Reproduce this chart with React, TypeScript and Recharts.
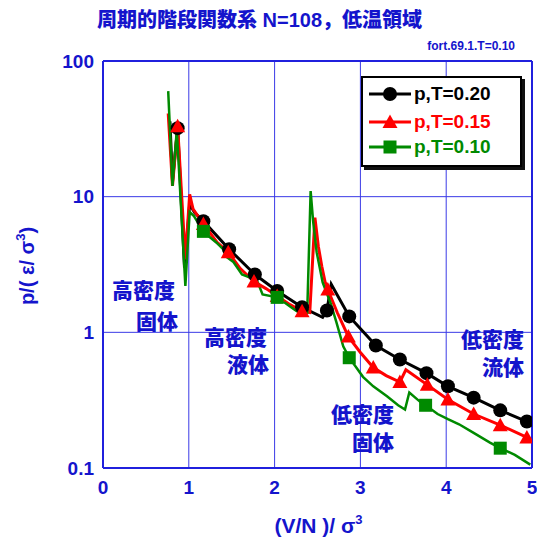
import React from 'react';
import { ComposedChart, Line, XAxis, YAxis, ReferenceLine } from 'recharts';

// ---------- data ----------
const xTicks = [0, 1, 2, 3, 4, 5];
const yTicks = [0.1, 1, 10, 100];
const xMinorTicks = [0, 0.2, 0.4, 0.6, 0.8, 1, 1.2, 1.4, 1.6, 1.8, 2, 2.2, 2.4, 2.6, 2.8, 3, 3.2, 3.4, 3.6, 3.8, 4, 4.2, 4.4, 4.6, 4.8, 5];
const yMinorTicks = [0.2, 0.3, 0.4, 0.5, 0.6, 0.7, 0.8, 0.9, 1, 2, 3, 4, 5, 6, 7, 8, 9, 10, 20, 30, 40, 50, 60, 70, 80, 90];
const gridX = [1, 2, 3, 4];
const gridY = [1, 10];

const t20X = [0.78, 0.81, 0.87, 0.95, 1.01, 1.07, 1.17, 1.47, 1.77, 2.03, 2.32, 2.56, 2.61, 2.66, 2.87, 3.18, 3.46, 3.77, 4.02, 4.32, 4.63, 4.94, 5.0];
const t20Y = [36, 13, 32, 3.0, 8.8, 7.6, 6.6, 4.1, 2.67, 2.02, 1.53, 1.29, 1.45, 2.26, 1.31, 0.8, 0.63, 0.5, 0.4, 0.33, 0.266, 0.22, 0.21];
const t20Marks = [2, 6, 7, 8, 9, 10, 12, 14, 15, 16, 17, 18, 19, 20, 21];

const t15X = [0.76, 0.81, 0.87, 0.96, 1.01, 1.05, 1.17, 1.33, 1.46, 1.6, 1.76, 1.9, 2.03, 2.18, 2.32, 2.41, 2.47, 2.51, 2.55, 2.59, 2.62, 2.73, 2.86, 3.0, 3.15, 3.3, 3.46, 3.53, 3.78, 4.02, 4.32, 4.63, 4.94, 5.0];
const t15Y = [41, 12, 33, 3.45, 10.4, 8.1, 6.3, 4.6, 3.9, 2.95, 2.37, 2.1, 1.85, 1.6, 1.43, 1.4, 7.0, 4.3, 3.07, 2.33, 2.07, 1.4, 0.93, 0.71, 0.55, 0.48, 0.43, 0.53, 0.41, 0.32, 0.25, 0.207, 0.168, 0.16];
const t15Marks = [2, 6, 8, 10, 12, 14, 20, 22, 24, 26, 28, 29, 30, 31, 32];

const t10X = [0.76, 0.81, 0.86, 0.96, 1.01, 1.06, 1.17, 1.25, 1.32, 1.4, 1.44, 1.52, 1.62, 1.7, 1.79, 1.86, 2.03, 2.12, 2.18, 2.26, 2.38, 2.42, 2.45, 2.49, 2.56, 2.65, 2.72, 2.8, 2.87, 3.03, 3.15, 3.31, 3.44, 3.52, 3.57, 3.69, 3.76, 3.9, 4.02, 4.15, 4.31, 4.51, 4.63, 4.8, 4.98];
const t10Y = [60, 12, 31, 2.2, 7.7, 7.2, 5.55, 5.0, 4.6, 4.1, 3.6, 3.3, 2.67, 2.55, 2.45, 1.9, 1.81, 1.65, 1.55, 1.43, 1.4, 11.0, 6.5, 3.9, 2.33, 1.66, 1.19, 0.79, 0.65, 0.47, 0.4, 0.338, 0.29, 0.27, 0.36, 0.31, 0.29, 0.25, 0.229, 0.21, 0.183, 0.154, 0.14, 0.125, 0.106];
const t10Marks = [6, 16, 28, 36, 42];

const seriesNames = ['p,T=0.20', 'p,T=0.15', 'p,T=0.10'];

// ---------- styles ----------
const BLUE = '#1414cc';
const AXIS = '#2020dd';
const GRID = '#3a3ae6';
const LATIN = '"Liberation Sans", Arial, sans-serif';
const CJK = '"Liberation Sans", "Noto Sans CJK JP", sans-serif';
const COLORS = ['#000000', '#ff0000', '#008a00'];

const build = (xs: number[], ys: number[], marks: number[]) =>
  xs.map((x, i) => ({ x, y: ys[i], m: marks.includes(i) }));

const t20Data = build(t20X, t20Y, t20Marks);
const t15Data = build(t15X, t15Y, t15Marks);
const t10Data = build(t10X, t10Y, t10Marks);

const Marker = ({ kind, cx, cy, color }: { kind: number; cx: number; cy: number; color: string }) => {
  if (kind === 0) return <circle cx={cx} cy={cy} r={7} fill={color} />;
  if (kind === 1)
    return <polygon points={`${cx},${cy - 7.5} ${cx + 7.5},${cy + 6} ${cx - 7.5},${cy + 6}`} fill={color} />;
  return <rect x={cx - 6.5} y={cy - 6.5} width={13} height={13} fill={color} />;
};

const makeDot = (kind: number) => (props: any) => {
  const { cx, cy, payload, index } = props;
  if (!payload || !payload.m || cx == null || cy == null) return <g key={`e${kind}-${index}`} />;
  return (
    <g key={`d${kind}-${index}`}>
      <Marker kind={kind} cx={cx} cy={cy} color={COLORS[kind]} />
    </g>
  );
};

const abs = (left: number, top: number, extra: React.CSSProperties = {}): React.CSSProperties => ({
  position: 'absolute',
  left,
  top,
  whiteSpace: 'nowrap',
  fontWeight: 'bold',
  color: BLUE,
  ...extra,
});

const sup: React.CSSProperties = { fontSize: 13, lineHeight: 0, verticalAlign: 'baseline', position: 'relative', top: -9 };

export default function App() {
  const tickStyle = { fill: BLUE, fontSize: 19, fontWeight: 'bold', fontFamily: LATIN } as any;
  const ann = { fontSize: 21, lineHeight: '22px', fontFamily: CJK, fontWeight: 900 } as React.CSSProperties;
  return (
    <div style={{ position: 'absolute', left: 0, top: 0, width: 537, height: 539, background: '#fff' }}>
      <ComposedChart width={537} height={539} margin={{ top: 61, right: 5, bottom: 0, left: 0 }}>
        <XAxis
          xAxisId="b"
          type="number"
          dataKey="x"
          domain={[0, 5]}
          ticks={xTicks}
          allowDataOverflow
          orientation="bottom"
          height={71}
          tickSize={0}
          tickMargin={13}
          tickLine={false}
          axisLine={{ stroke: AXIS, strokeWidth: 2 }}
          tick={tickStyle}
        />
        <XAxis
          xAxisId="bm"
          type="number"
          dataKey="x"
          domain={[0, 5]}
          ticks={xMinorTicks}
          allowDataOverflow
          orientation="bottom"
          mirror
          height={10}
          tick={false}
          tickSize={5}
          axisLine={false}
          tickLine={{ stroke: AXIS, strokeWidth: 1.5 }}
        />
        <XAxis
          xAxisId="t"
          type="number"
          dataKey="x"
          domain={[0, 5]}
          ticks={xMinorTicks}
          allowDataOverflow
          orientation="top"
          mirror
          height={10}
          tick={false}
          tickSize={5}
          axisLine={{ stroke: AXIS, strokeWidth: 2 }}
          tickLine={{ stroke: AXIS, strokeWidth: 1.5 }}
        />
        <YAxis
          yAxisId="l"
          type="number"
          scale="log"
          domain={[0.1, 100]}
          ticks={yTicks}
          allowDataOverflow
          width={103}
          tickSize={0}
          tickMargin={9}
          tickLine={false}
          axisLine={{ stroke: AXIS, strokeWidth: 2 }}
          tick={tickStyle}
          tickFormatter={(v: number) => String(v)}
        />
        <YAxis
          yAxisId="lm"
          type="number"
          scale="log"
          domain={[0.1, 100]}
          ticks={yMinorTicks}
          allowDataOverflow
          orientation="left"
          mirror
          width={10}
          tick={false}
          tickSize={6}
          axisLine={false}
          tickLine={{ stroke: AXIS, strokeWidth: 1.5 }}
        />
        <YAxis
          yAxisId="r"
          type="number"
          scale="log"
          domain={[0.1, 100]}
          ticks={yMinorTicks}
          allowDataOverflow
          orientation="right"
          mirror
          width={10}
          tick={false}
          tickSize={6}
          axisLine={{ stroke: AXIS, strokeWidth: 2 }}
          tickLine={{ stroke: AXIS, strokeWidth: 1.5 }}
        />
        {gridX.map((g) => (
          <ReferenceLine key={`gx${g}`} xAxisId="b" yAxisId="l" x={g} stroke={GRID} strokeWidth={1} />
        ))}
        {gridY.map((g) => (
          <ReferenceLine key={`gy${g}`} xAxisId="b" yAxisId="l" y={g} stroke={GRID} strokeWidth={1} />
        ))}
        <Line
          xAxisId="b"
          yAxisId="l"
          data={t20Data}
          dataKey="y"
          name={seriesNames[0]}
          type="linear"
          stroke={COLORS[0]}
          strokeWidth={3}
          dot={makeDot(0)}
          activeDot={false}
          isAnimationActive={false}
        />
        <Line
          xAxisId="b"
          yAxisId="l"
          data={t15Data}
          dataKey="y"
          name={seriesNames[1]}
          type="linear"
          stroke={COLORS[1]}
          strokeWidth={3}
          dot={makeDot(1)}
          activeDot={false}
          isAnimationActive={false}
        />
        <Line
          xAxisId="b"
          yAxisId="l"
          data={t10Data}
          dataKey="y"
          name={seriesNames[2]}
          type="linear"
          stroke={COLORS[2]}
          strokeWidth={2.5}
          dot={makeDot(2)}
          activeDot={false}
          isAnimationActive={false}
        />
      </ComposedChart>

      {/* Title */}
      <div style={abs(97, 9, { fontSize: 20, lineHeight: '22px', fontFamily: CJK, fontWeight: 900 })}>
        周期的階段関数系 N=108，低温領域
      </div>
      <div style={abs(0, 39, { width: 515, textAlign: 'right', fontSize: 12, lineHeight: '14px', fontFamily: LATIN })}>
        fort.69.1.T=0.10
      </div>

      {/* Annotations */}
      <div style={abs(112, 280, ann)}>高密度</div>
      <div style={abs(135, 311, { ...ann, width: 43, textAlign: 'right' })}>固体</div>
      <div style={abs(204, 327, ann)}>高密度</div>
      <div style={abs(226, 354, { ...ann, width: 43, textAlign: 'right' })}>液体</div>
      <div style={abs(331, 404, ann)}>低密度</div>
      <div style={abs(351, 432, { ...ann, width: 43, textAlign: 'right' })}>固体</div>
      <div style={abs(461, 329, ann)}>低密度</div>
      <div style={abs(481, 357, { ...ann, width: 43, textAlign: 'right' })}>流体</div>

      {/* Axis labels */}
      <div style={abs(0, 514, { width: 637, textAlign: 'center', fontSize: 21, lineHeight: '24px', fontFamily: LATIN })}>
        (V/N )/ σ<span style={sup}>3</span>
      </div>
      <div
        style={abs(27, 266, {
          fontSize: 20,
          lineHeight: '22px',
          fontFamily: LATIN,
          transform: 'translate(-50%, -50%) rotate(-90deg)',
        })}
      >
        p/( ε/ σ<span style={sup}>3</span>)
      </div>

      {/* Legend */}
      <div
        style={{
          position: 'absolute',
          left: 361,
          top: 76,
          width: 157,
          height: 87,
          border: '2px solid #000',
          background: '#fff',
          boxShadow: '3px 3px 0 #111',
        }}
      >
        {seriesNames.map((name, i) => {
          const cy = [16, 44, 69][i];
          return (
            <div key={name}>
              <svg style={{ position: 'absolute', left: 6, top: cy - 10 }} width={46} height={20}>
                <line x1={0} y1={10} x2={42} y2={10} stroke={COLORS[i]} strokeWidth={3} />
                <Marker kind={i} cx={21} cy={10} color={COLORS[i]} />
              </svg>
              <div
                style={{
                  position: 'absolute',
                  left: 51,
                  top: cy - 11,
                  fontSize: 19,
                  lineHeight: '22px',
                  fontWeight: 'bold',
                  fontFamily: LATIN,
                  color: COLORS[i],
                  whiteSpace: 'nowrap',
                }}
              >
                {name}
              </div>
            </div>
          );
        })}
      </div>
    </div>
  );
}
